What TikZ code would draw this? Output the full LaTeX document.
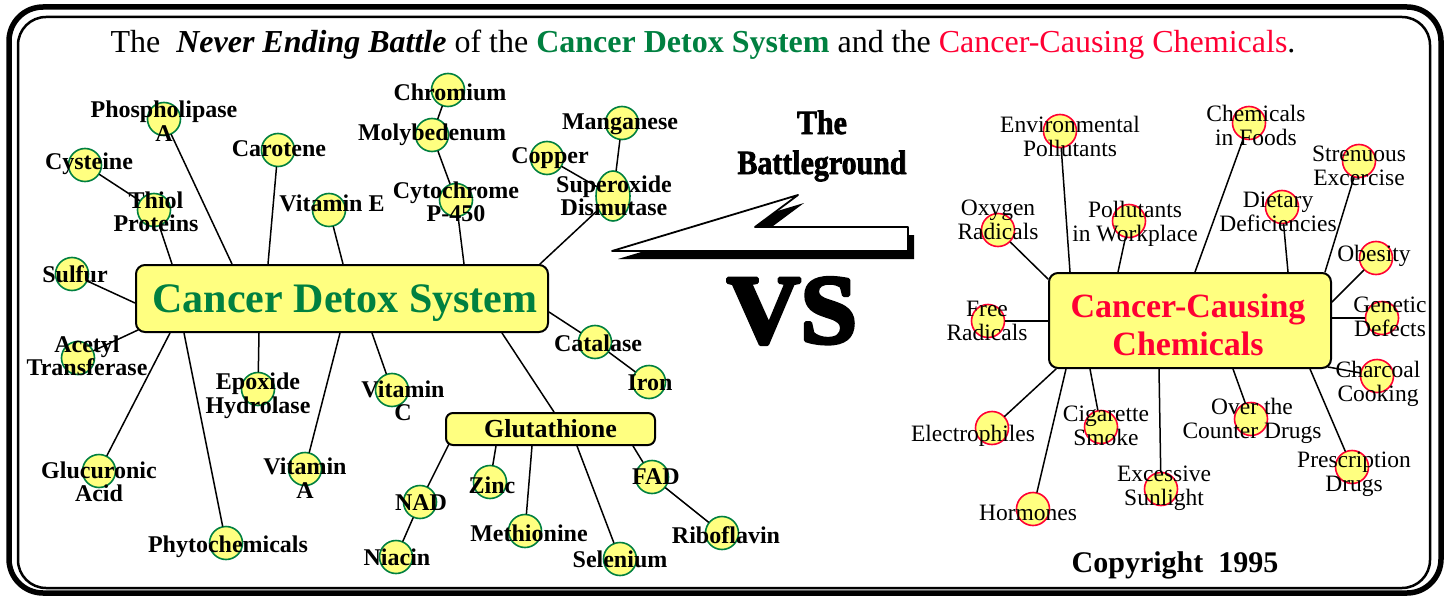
\documentclass[tikz,border=0pt]{standalone}
\usepackage{fontspec}
\setmainfont{Liberation Serif}
\newfontfamily\vsfont{Liberation Serif Bold}[FakeBold=4,FakeStretch=1.04]
\newfontfamily\battlefont{Liberation Serif Bold}[FakeBold=2,FakeStretch=0.88]
\usetikzlibrary{positioning,shapes.geometric,calc}

\begin{document}
\begin{tikzpicture}[x=1pt, y=-1pt, line cap=round, line join=round]

	\definecolor{dotyellow}{RGB}{255,255,128}
	\definecolor{detoxgreen}{RGB}{0,128,64}
	\definecolor{causered}{RGB}{255,0,51}

	\tikzset{
		mainbox/.style={draw=black, line width=2pt, fill=dotyellow, rounded corners=9pt, inner sep=0pt},
		detoxdot/.style={circle, draw=detoxgreen, line width=1.6pt, fill=dotyellow, minimum size=33pt, inner sep=0pt},
		causedot/.style={circle, draw=causered, line width=1.6pt, fill=dotyellow, minimum size=33pt, inner sep=0pt},
		detoxlab/.style={align=center, font=\bfseries\fontsize{24}{23.5}\selectfont, inner sep=0pt},
		causelab/.style={align=center, font=\fontsize{23.5}{24}\selectfont, inner sep=0pt},
		link/.style={black, line width=1.5pt},
	}

	% --- frame
	\useasboundingbox (0,0) rectangle (1447,596);
	\draw[line width=5.5pt, rounded corners=34pt] (9,7) rectangle (1441,593);
	\draw[line width=2.5pt, rounded corners=28pt] (18,17) rectangle (1430,588);

	% --- title
	\node[font=\fontsize{32}{36}\selectfont] (title) at (703,45) {The\ \ \textbf{\textit{Never Ending Battle}} of the \textcolor{detoxgreen}{\textbf{Cancer Detox System}} and the \textcolor{causered}{Cancer-Causing Chemicals}.};

	% --- the battleground arrow
	\begin{scope}[shift={(6,8)}]
		\fill[black] (612,251) -- (798,195) -- (755,227) -- (908,227) -- (908,251) -- cycle;
	\end{scope}
	\filldraw[fill=white, draw=black, line width=1.8pt] (612,251) -- (798,195) -- (755,227) -- (908,227) -- (908,251) -- cycle;
	\node[align=center, font=\battlefont\fontsize{34}{40}\selectfont] (battle) at (822,146) {The\\Battleground};
	\node[font=\vsfont\fontsize{98}{98}\selectfont] (vs) at (792,311) {VS};

	% --- main boxes
	\node[mainbox, minimum width=412pt, minimum height=67pt, text=detoxgreen, font=\bfseries\fontsize{42}{42}\selectfont] (detox) at (342,298.5) {};
	\node[text=detoxgreen, font=\bfseries\fontsize{42}{42}\selectfont, inner sep=0pt] (detoxlab) at (345,303) {Cancer Detox System};
	\node[mainbox, rounded corners=7pt, minimum width=209pt, minimum height=32pt, font=\bfseries\fontsize{26}{26}\selectfont] (glut) at (550.5,429) {Glutathione};
	\node[mainbox, minimum width=282pt, minimum height=95pt] (chem) at (1190,320.5) {};
	\node[text=causered, align=center, font=\bfseries\fontsize{34}{38}\selectfont, inner sep=0pt] (chemlab) at (1188,325) {Cancer-Causing\\Chemicals};

	% --- detox dots
	\node[detoxdot] (phos) at (164,119) {};
	\node[detoxdot] (cyst) at (85,165) {};
	\node[detoxdot] (thiol) at (154,210) {};
	\node[detoxdot] (carot) at (278,150) {};
	\node[detoxdot] (vite) at (329,210) {};
	\node[detoxdot] (chrom) at (448,90) {};
	\node[detoxdot] (molyb) at (432,135) {};
	\node[detoxdot] (cyto) at (456,200) {};
	\node[detoxdot] (copper) at (547,158) {};
	\node[detoxdot] (mang) at (622,123) {};
	\node[detoxdot, ellipse, minimum width=34pt, minimum height=50pt] (sod) at (613,196) {};
	\node[detoxdot] (sulfur) at (72,274) {};
	\node[detoxdot] (acetyl) at (78,358) {};
	\node[detoxdot] (glucu) at (99,471) {};
	\node[detoxdot] (phyto) at (226,543) {};
	\node[detoxdot] (epox) at (258,389) {};
	\node[detoxdot] (vita) at (305,469) {};
	\node[detoxdot] (vitc) at (392,390) {};
	\node[detoxdot] (nad) at (420,502) {};
	\node[detoxdot] (niacin) at (396,557) {};
	\node[detoxdot] (catal) at (595,342) {};
	\node[detoxdot] (iron) at (649,382) {};
	\node[detoxdot] (zinc) at (490,482) {};
	\node[detoxdot] (meth) at (525,531) {};
	\node[detoxdot] (selen) at (620,559) {};
	\node[detoxdot] (fad) at (652,477) {};
	\node[detoxdot] (ribo) at (722,533) {};

	% --- cause dots
	\node[causedot] (env) at (1060,131) {};
	\node[causedot] (foods) at (1249,123) {};
	\node[causedot] (stren) at (1359,161) {};
	\node[causedot] (oxy) at (998,230) {};
	\node[causedot] (polwp) at (1129,221) {};
	\node[causedot] (diet) at (1282,207) {};
	\node[causedot] (obes) at (1376,258) {};
	\node[causedot] (genet) at (1382,318) {};
	\node[causedot] (free) at (988,321) {};
	\node[causedot] (charc) at (1377,376) {};
	\node[causedot] (elec) at (992,428) {};
	\node[causedot] (horm) at (1033,509) {};
	\node[causedot] (cig) at (1101,427) {};
	\node[causedot] (sun) at (1161,489) {};
	\node[causedot] (otc) at (1251,419) {};
	\node[causedot] (presc) at (1352,467) {};

	% --- detox links
	\draw[link] (phos) -- (232,0 |- detox.north);
	\draw[link] (cyst) -- (thiol);
	\draw[link] (thiol) -- (172,0 |- detox.north);
	\draw[link] (carot) -- (268,0 |- detox.north);
	\draw[link] (vite) -- (343,0 |- detox.north);
	\draw[link] (chrom) -- (molyb);
	\draw[link] (molyb) -- (cyto);
	\draw[link] (cyto) -- (464,0 |- detox.north);
	\draw[link] (copper) -- (sod);
	\draw[link] (mang) -- (sod);
	\draw[link] (sod) -- (540,0 |- detox.north);
	\draw[link] (sulfur) -- (detox.west |- 0,303);
	\draw[link] (acetyl) -- ([shift={(3,-3)}]detox.south west);
	\draw[link] (glucu) -- (170,0 |- detox.south);
	\draw[link] (phyto) -- (184,0 |- detox.south);
	\draw[link] (epox) -- (259,0 |- detox.south);
	\draw[link] (vita) -- (340,0 |- detox.south);
	\draw[link] (vitc) -- (372,0 |- detox.south);
	\draw[link] (502,0 |- detox.south) -- (554,0 |- glut.north);
	\draw[link] (catal) -- (detox.east |- 0,312);
	\draw[link] (catal) -- (iron);
	\draw[link] (nad) -- ([shift={(4,-2)}]glut.south west);
	\draw[link] (nad) -- (niacin);
	\draw[link] (zinc) -- (496,0 |- glut.south);
	\draw[link] (meth) -- (532,0 |- glut.south);
	\draw[link] (selen) -- (577,0 |- glut.south);
	\draw[link] (fad) -- (633,0 |- glut.south);
	\draw[link] (fad) -- (ribo);

	% --- cause links
	\draw[link] (env) -- (1070,0 |- chem.north);
	\draw[link] (foods) -- (1195,0 |- chem.north);
	\draw[link] (stren) -- (1325,0 |- chem.north);
	\draw[link] (oxy) -- (chem.west |- 0,279);
	\draw[link] (polwp) -- (1118,0 |- chem.north);
	\draw[link] (diet) -- (1288,0 |- chem.north);
	\draw[link] (obes) -- (chem.east |- 0,302);
	\draw[link] (genet) -- (chem.east |- 0,318);
	\draw[link] (free) -- (chem.west |- 0,321);
	\draw[link] (charc) -- ([shift={(-4,-2)}]chem.south east);
	\draw[link] (elec) -- (1056,0 |- chem.south);
	\draw[link] (horm) -- (1066,0 |- chem.south);
	\draw[link] (cig) -- (1090,0 |- chem.south);
	\draw[link] (sun) -- (1159,0 |- chem.south);
	\draw[link] (otc) -- (1233,0 |- chem.south);
	\draw[link] (presc) -- (1310,0 |- chem.south);

	% --- detox labels
	\node[detoxlab] (phoslab) at (164,121) {Phospholipase\\A};
	\node[detoxlab] (cystlab) at (89,164) {Cysteine};
	\node[detoxlab] (thiollab) at (156,212) {Thiol\\Proteins};
	\node[detoxlab] (carotlab) at (279,149) {Carotene};
	\node[detoxlab] (vitelab) at (332,203) {Vitamin E};
	\node[detoxlab] (chromlab) at (450,92) {Chromium};
	\node[detoxlab] (molyblab) at (432,135) {Molybedenum};
	\node[detoxlab] (cytolab) at (456,202) {Cytochrome\\P-450};
	\node[detoxlab] (copperlab) at (550,158) {Copper};
	\node[detoxlab] (manglab) at (620,124) {Manganese};
	\node[detoxlab] (sodlab) at (614,196) {Superoxide\\Dismutase};
	\node[detoxlab] (sulfurlab) at (75,274) {Sulfur};
	\node[detoxlab] (acetyllab) at (87,356) {Acetyl\\Transferase};
	\node[detoxlab] (gluculab) at (99,482) {Glucuronic\\Acid};
	\node[detoxlab] (phytolab) at (228,547) {Phytochemicals};
	\node[detoxlab] (epoxlab) at (258,396) {Epoxide\\Hydrolase};
	\node[detoxlab] (vitalab) at (305,478) {Vitamin\\A};
	\node[detoxlab] (vitclab) at (403,401) {Vitamin\\C};
	\node[detoxlab] (nadlab) at (421,503) {NAD};
	\node[detoxlab] (niacinlab) at (397,557) {Niacin};
	\node[detoxlab] (catallab) at (598,343) {Catalase};
	\node[detoxlab] (ironlab) at (650,383) {Iron};
	\node[detoxlab] (zinclab) at (492,485) {Zinc};
	\node[detoxlab] (methlab) at (529,533) {Methionine};
	\node[detoxlab] (selenlab) at (620,559) {Selenium};
	\node[detoxlab] (fadlab) at (656,477) {FAD};
	\node[detoxlab] (ribolab) at (726,535) {Riboflavin};

	% --- cause labels
	\node[causelab] (envlab) at (1070,136) {Environmental\\Pollutants};
	\node[causelab] (foodslab) at (1256,125) {Chemicals\\in Foods};
	\node[causelab] (strenlab) at (1359,166) {Strenuous\\Excercise};
	\node[causelab] (oxylab) at (998,220) {Oxygen\\Radicals};
	\node[causelab] (polwplab) at (1135,224) {Pollutants\\in Workplace};
	\node[causelab] (dietlab) at (1278,212) {Dietary\\Deficiencies};
	\node[causelab] (obeslab) at (1374,256) {Obesity};
	\node[causelab] (genetlab) at (1390,317) {Genetic\\Defects};
	\node[causelab] (freelab) at (987,321) {Free\\Radicals};
	\node[causelab] (charclab) at (1378,384) {Charcoal\\Cooking};
	\node[causelab] (eleclab) at (973,436) {Electrophiles};
	\node[causelab] (hormlab) at (1028,513) {Hormones};
	\node[causelab] (ciglab) at (1106,426) {Cigarette\\Smoke};
	\node[causelab] (sunlab) at (1164,488) {Excessive\\Sunlight};
	\node[causelab] (otclab) at (1252,421) {Over the\\Counter Drugs};
	\node[causelab] (presclab) at (1354,474) {Prescription\\Drugs};

	% --- copyright
	\node[font=\bfseries\fontsize{30}{30}\selectfont] (copyr) at (1175,565) {Copyright\ \ 1995};

\end{tikzpicture}
\end{document}
